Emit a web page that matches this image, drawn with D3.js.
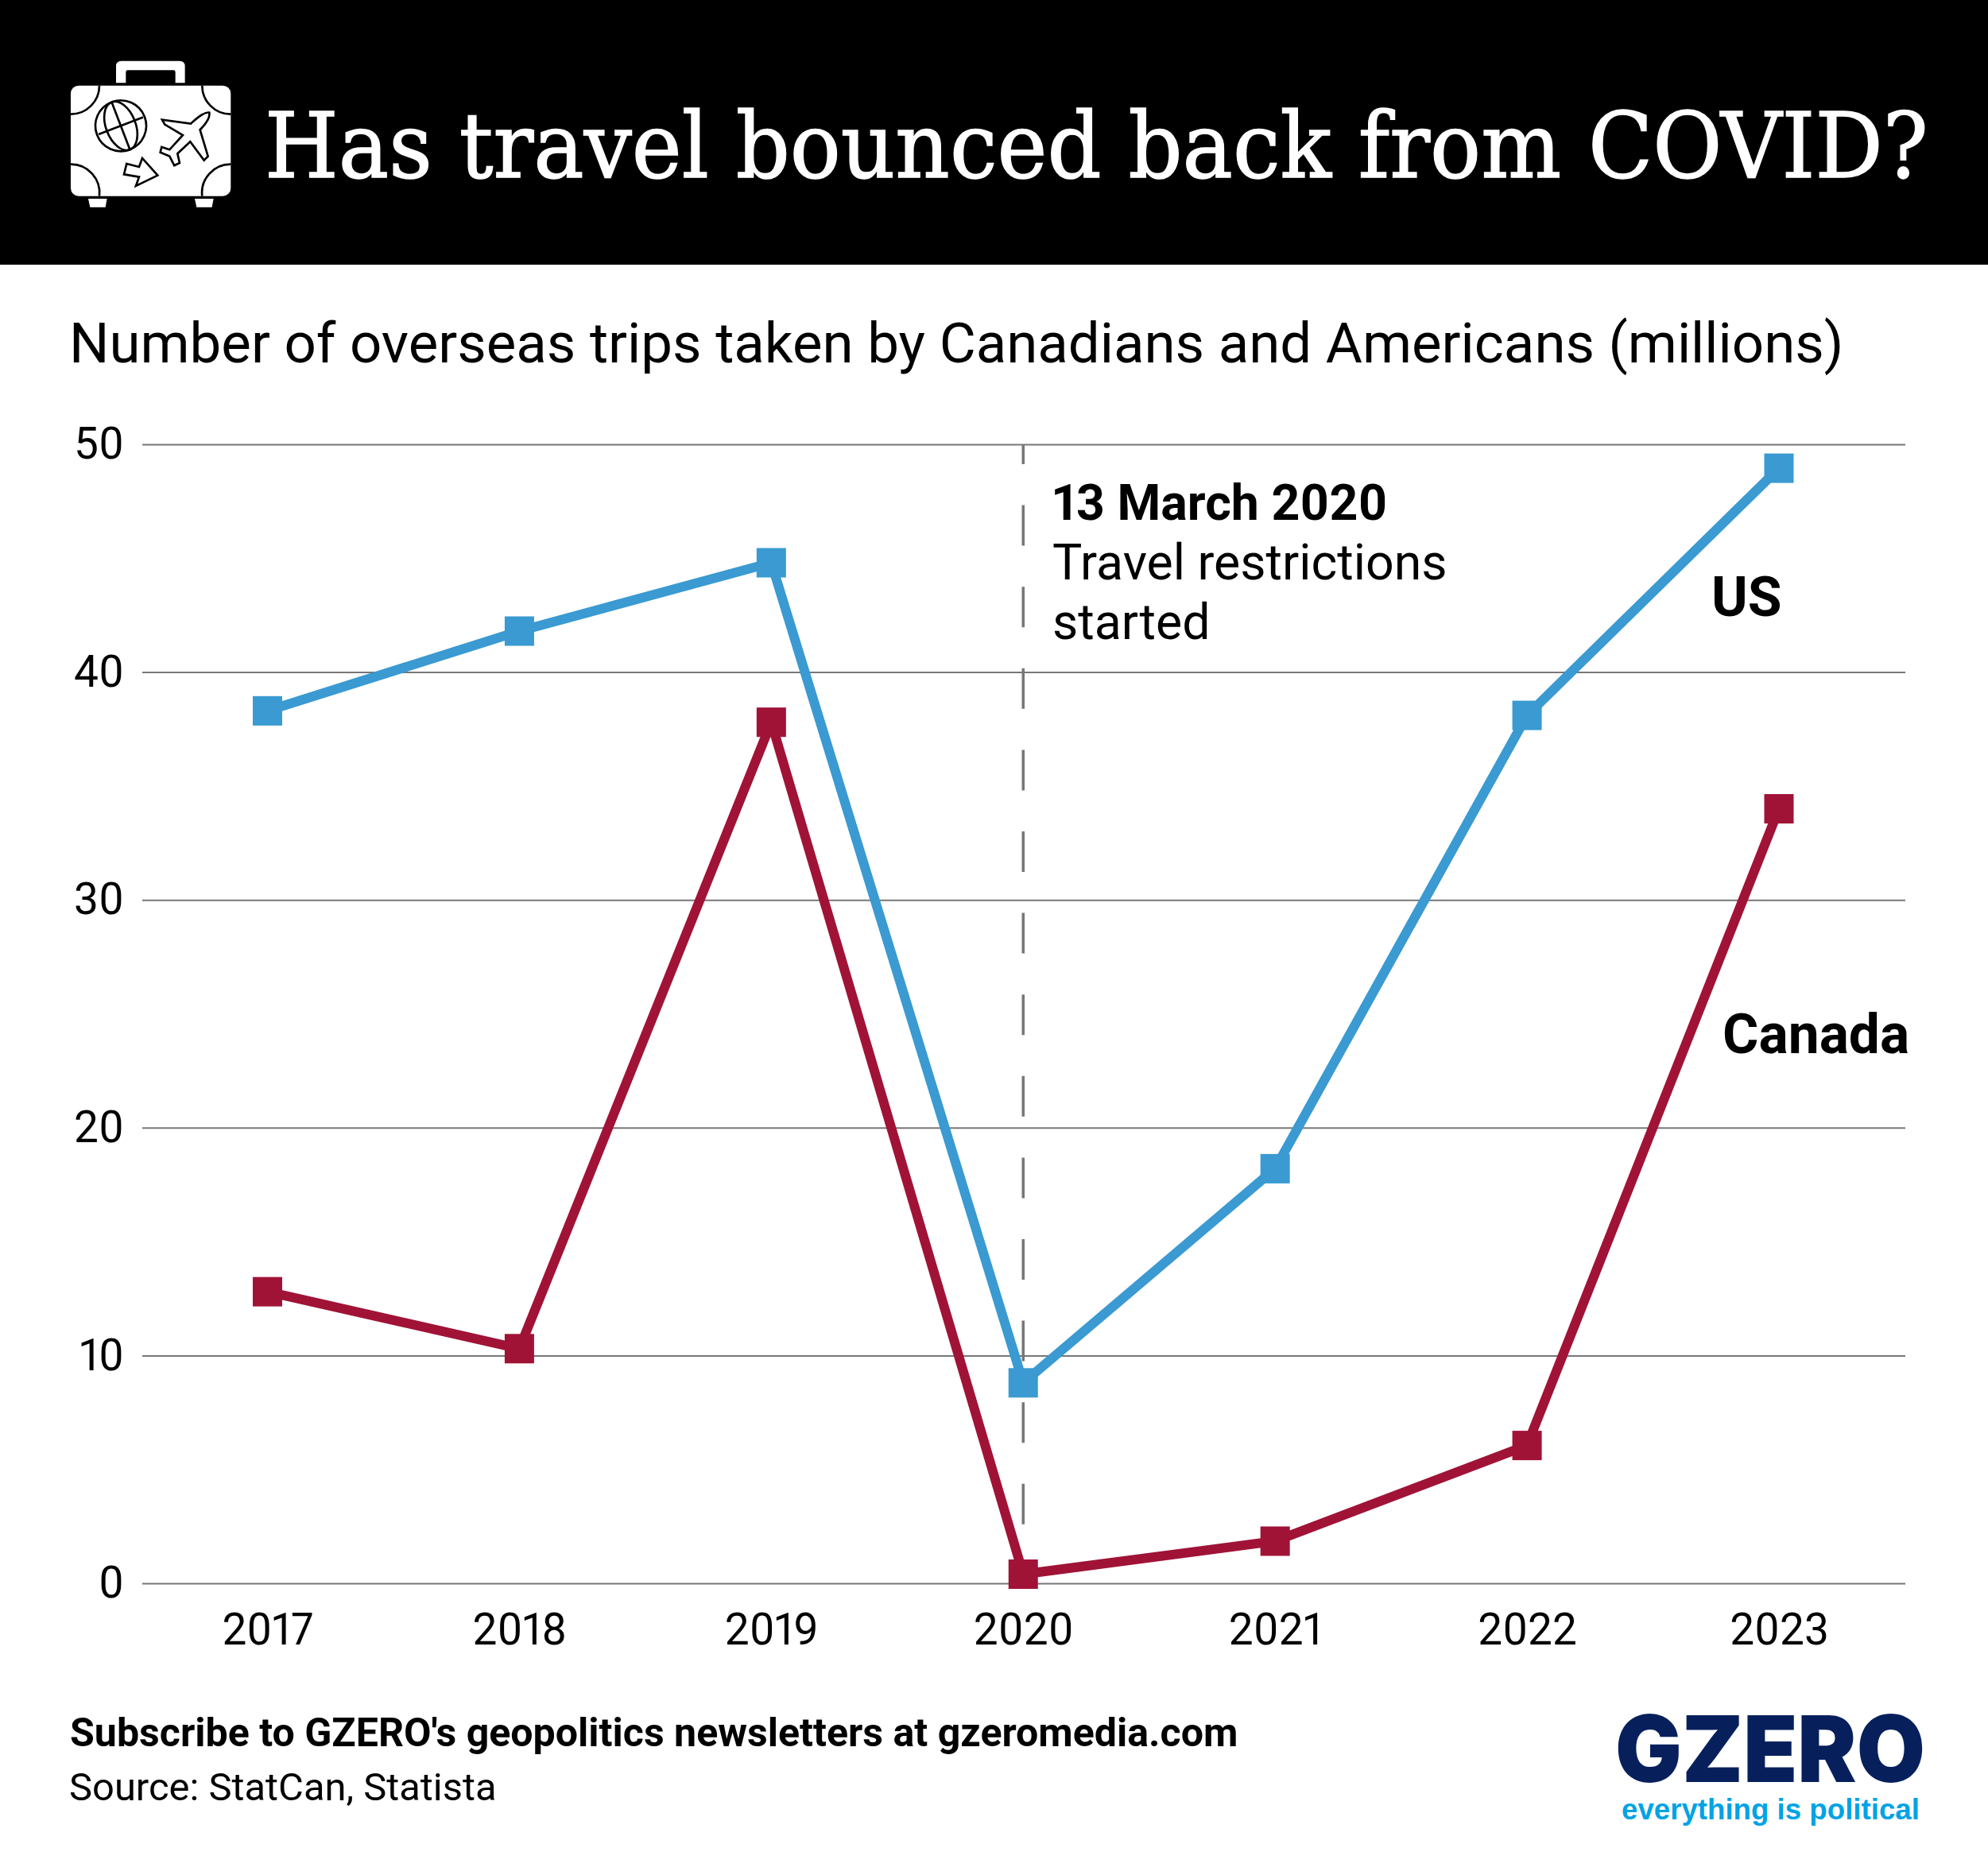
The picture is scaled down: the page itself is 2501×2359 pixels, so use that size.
<!DOCTYPE html>
<html>
<head>
<meta charset="utf-8">
<script src="https://cdn.jsdelivr.net/npm/d3@7"></script>
<style>
  html, body { margin: 0; padding: 0; background: #fff; }
  svg { display: block; }
  text { font-family: Roboto, sans-serif; fill: #000; font-variant-numeric: proportional-nums; }
  .domain { display: none; }
</style>
</head>
<body>
<div id="chart"></div>
<script>
// Chart values
const years = ["2017", "2018", "2019", "2020", "2021", "2022", "2023"];
const usTrips = [38.3, 41.8, 44.8, 8.8, 18.2, 38.1, 48.95];
const canadaTrips = [12.8, 10.3, 37.8, 0.4, 1.85, 6.05, 34.0];
const yTicks = [0, 10, 20, 30, 40, 50];

// Define SVG area dimensions
const svgWidth = 2501;
const svgHeight = 2359;

const blue = "#3a9ad1";
const crimson = "#a01337";

const svg = d3.select("#chart")
    .append("svg")
    .attr("width", svgWidth)
    .attr("height", svgHeight);

// Squeeze a text to a given width, keeping its height
function fitWidth(selection, x, y, width) {
    const natural = selection.node().getComputedTextLength();
    selection.attr("transform", `translate(${x}, ${y}) scale(${width / natural}, 1)`);
}

// Header band
svg.append("rect")
    .attr("width", svgWidth)
    .attr("height", 333)
    .attr("fill", "#000");

svg.append("text")
    .text("Has travel bounced back from COVID?")
    .style("font-family", "'DejaVu Serif', serif")
    .style("font-size", "114px")
    .style("fill", "#fff")
    .style("stroke", "#fff")
    .style("stroke-width", "1.5px")
    .call(fitWidth, 333, 223, 2093);

// Suitcase icon, traced at 3x then scaled down
const icon = svg.append("g").attr("transform", "scale(0.3333)");

icon.append("path")
    .attr("d", "M438 313V250Q438 230 458 230H678Q698 230 698 250V313H662V272Q662 265 655 265H482Q475 265 475 272V313Z")
    .attr("fill", "#fff");
icon.append("rect")
    .attr("x", 267).attr("y", 323)
    .attr("width", 604).attr("height", 417)
    .attr("rx", 30)
    .attr("fill", "#fff");
icon.selectAll(".foot")
    .data(["M333 750H404L398 782H340Z", "M735 750H806L800 782H742Z"])
    .enter()
    .append("path")
    .attr("d", d => d)
    .attr("fill", "#fff");

const iconLines = icon.append("g")
    .attr("fill", "none")
    .attr("stroke", "#000")
    .attr("stroke-width", 8);
iconLines.selectAll(".corner")
    .data([
        "M375 323A108 108 0 0 1 267 431",
        "M763 323A108 108 0 0 0 871 431",
        "M267 620A108 108 0 0 1 375 740",
        "M871 620A108 108 0 0 0 763 740"
    ])
    .enter()
    .append("path")
    .attr("d", d => d);

const globe = iconLines.append("g")
    .attr("transform", "translate(456,475) rotate(-21)");
globe.append("circle").attr("r", 96);
globe.append("ellipse").attr("rx", 56).attr("ry", 96);
globe.append("line").attr("y1", -96).attr("y2", 96);
globe.append("line").attr("x1", -90).attr("x2", 90);

iconLines.append("path")
    .attr("d", "M790 425Q770 420 720 467L612 452L622 470L690 510L640 565L610 555L605 575L640 590L658 625L678 615L670 580L718 535L770 605L785 590L755 490Q795 450 790 425Z");
iconLines.append("path")
    .attr("d", "M478 618L525 630L537 597L595 662L513 702L525 668L468 658Z");

// Subtitle
svg.append("text")
    .text("Number of overseas trips taken by Canadians and Americans (millions)")
    .attr("x", 87)
    .attr("y", 456)
    .style("font-size", "70.8px");

// Scales
const xScale = d3.scalePoint()
    .domain(years)
    .range([336.5, 2238]);

const yScale = d3.scaleLinear()
    .domain([0, 50])
    .range([1992, 559]);

// Gridlines and y axis labels
const yAxis = d3.axisLeft(yScale)
    .tickValues(yTicks)
    .tickSize(2397 - 179)
    .tickPadding(23);

const yGroup = svg.append("g")
    .attr("transform", "translate(2397, 0)")
    .call(yAxis);
yGroup.selectAll("line")
    .attr("stroke", "#777")
    .attr("stroke-width", 2);
yGroup.selectAll("text")
    .style("font-size", "55px");

// x axis labels
const xAxis = d3.axisBottom(xScale)
    .tickSize(0)
    .tickPadding(38);

const xGroup = svg.append("g")
    .attr("transform", "translate(0, 1992)")
    .call(xAxis);
xGroup.selectAll("text")
    .style("font-size", "55px");

// Dashed marker for the start of restrictions
svg.append("line")
    .attr("x1", xScale("2020"))
    .attr("x2", xScale("2020"))
    .attr("y1", yScale(50))
    .attr("y2", yScale(0))
    .attr("stroke", "#777")
    .attr("stroke-width", 3.5)
    .attr("stroke-dasharray", "51 51.6")
    .attr("stroke-dashoffset", 26);

const noteLines = [
    { text: "13 March 2020", y: 654, weight: 700 },
    { text: "Travel restrictions", y: 729, weight: 400 },
    { text: "started", y: 804, weight: 400 }
];
svg.selectAll(".note")
    .data(noteLines)
    .enter()
    .append("text")
    .attr("class", "note")
    .text(d => d.text)
    .attr("x", 1324)
    .attr("y", d => d.y)
    .style("font-weight", d => d.weight)
    .style("font-size", "62.6px");

// Lines and square markers
const series = [
    { name: "Canada", values: canadaTrips, color: crimson },
    { name: "US", values: usTrips, color: blue }
];

const line = d3.line()
    .x((d, i) => xScale(years[i]))
    .y(d => yScale(d));

const markerSize = 37;

series.forEach(s => {
    svg.append("path")
        .attr("d", line(s.values))
        .attr("fill", "none")
        .attr("stroke", s.color)
        .attr("stroke-width", 12);

    svg.selectAll(".marker-" + s.name)
        .data(s.values)
        .enter()
        .append("rect")
        .attr("x", (d, i) => xScale(years[i]) - markerSize / 2)
        .attr("y", d => yScale(d) - markerSize / 2)
        .attr("width", markerSize)
        .attr("height", markerSize)
        .attr("fill", s.color);
});

// Series labels
svg.append("text")
    .text("US")
    .attr("x", 2153)
    .attr("y", 775)
    .style("font-weight", 700)
    .style("font-size", "69.5px");

svg.append("text")
    .text("Canada")
    .attr("x", 2167)
    .attr("y", 1325)
    .style("font-weight", 700)
    .style("font-size", "69.5px");

// Footer
svg.append("text")
    .text("Subscribe to GZERO's geopolitics newsletters at gzeromedia.com")
    .attr("x", 88)
    .attr("y", 2197)
    .style("font-weight", 700)
    .style("font-size", "50.1px");

svg.append("text")
    .text("Source: StatCan, Statista")
    .attr("x", 87)
    .attr("y", 2265)
    .style("font-size", "48.9px");

// Logo
svg.append("text")
    .text("GZERO")
    .style("font-family", "Inter, sans-serif")
    .style("font-weight", 900)
    .style("font-size", "116px")
    .style("fill", "#07205c")
    .call(fitWidth, 2032, 2242, 390);

svg.append("text")
    .text("everything is political")
    .style("font-family", "'Liberation Sans', sans-serif")
    .style("font-weight", 700)
    .style("font-size", "37px")
    .style("fill", "#00a3e4")
    .call(fitWidth, 2040, 2289, 375);
</script>
</body>
</html>
